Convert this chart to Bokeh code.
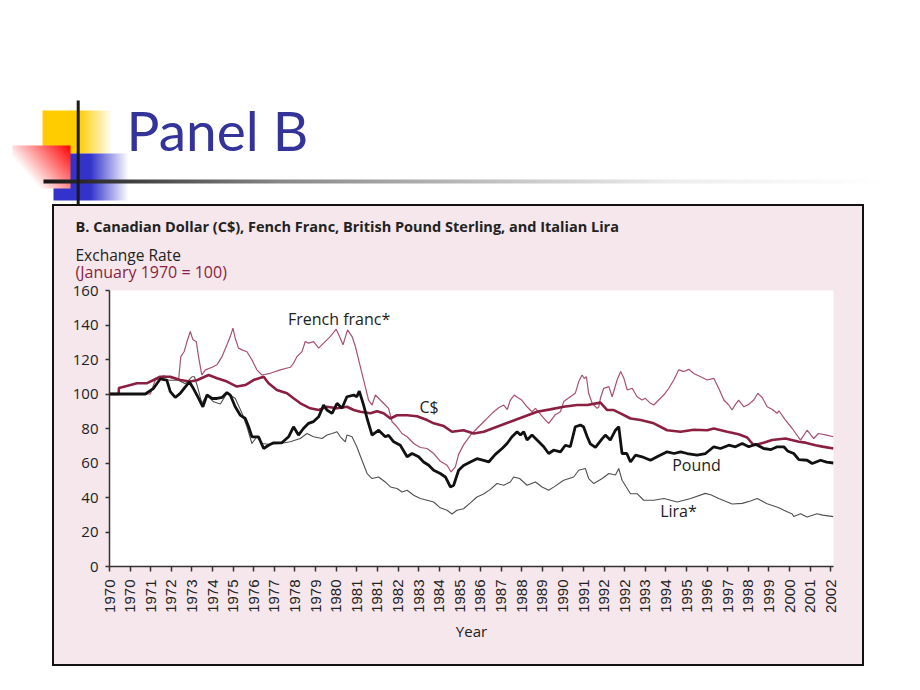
import math
import numpy as np
from bokeh.plotting import figure
from bokeh.models import Range1d, FixedTicker, Label, Spacer
from bokeh.layouts import column, row
from bokeh.embed import file_html
from bokeh.resources import INLINE

# ---------------- data (x = position in tick units, tick i = year_labels[i]) ----------------
year_labels = ["1970", "1970", "1971", "1972", "1973", "1974", "1975", "1976", "1977",
               "1978", "1979", "1980", "1981", "1981", "1982", "1983", "1984", "1985",
               "1986", "1987", "1988", "1989", "1990", "1991", "1992", "1992", "1993",
               "1994", "1995", "1996", "1997", "1998", "1999", "2000", "2001", "2002"]
y_ticks = [0, 20, 40, 60, 80, 100, 120, 140, 160]

cad_t = [0, 0.44, 0.46, 0.84, 1.33, 1.8, 2.14, 2.46, 2.95, 3.43, 3.9, 4.24, 4.81, 5.22, 5.7,
         6.18, 6.59, 6.99, 7.48, 7.72, 8.12, 8.61, 8.93, 9.26, 9.74, 10.15, 10.55, 11.04,
         11.52, 11.85, 12.17, 12.66, 12.98, 13.3, 13.63, 13.95, 14.44, 14.92, 15.41, 15.73,
         16.22, 16.62, 17.18, 17.67, 18.16, 18.8, 19.45, 20.1, 20.75, 21.39, 22.04, 22.69,
         23.18, 23.82, 24.15, 24.47, 24.79, 25.28, 25.77, 26.41, 27.06, 27.71, 28.35, 29.0,
         29.32, 29.97, 30.53, 30.94, 31.26, 31.74, 32.15, 32.8, 33.45, 33.77, 34.26, 34.6, 35.13]
cad_v = [100, 100, 103.5, 104.7, 106.2, 106.2, 108.1, 110, 110, 108.1, 107.2, 108, 111, 109.1,
         107.2, 104.3, 105.2, 108.1, 110, 106.2, 102.3, 100.4, 97.5, 94.6, 91.7, 90.7, 92.6,
         91.7, 92.6, 90.7, 89.7, 88.8, 90, 88.8, 85.8, 87.7, 87.7, 87.1, 84.9, 83, 81.4, 78.1,
         79, 77.1, 78.1, 81, 83.9, 86.8, 89.7, 91.1, 92.6, 93.6, 93.6, 95, 90.7, 90.7, 88.8,
         85.8, 84.9, 83, 79, 78.1, 79.3, 79, 80, 78.1, 76.7, 74.8, 70.3, 71.7, 73.3, 74.2,
         72.3, 71.8, 70.3, 69.5, 68.4]

franc_t = [0, 1.98, 2.22, 2.62, 3.1, 3.35, 3.46, 3.62, 3.76, 3.92, 4.05, 4.21, 4.32, 4.48,
           4.65, 4.98, 5.22, 5.46, 5.7, 5.86, 5.99, 6.1, 6.26, 6.43, 6.67, 6.91, 7.15, 7.4,
           7.8, 8.29, 8.77, 8.93, 9.1, 9.34, 9.5, 9.66, 9.9, 10.15, 10.39, 10.71, 11.0, 11.2,
           11.33, 11.55, 11.77, 11.93, 12.09, 12.25, 12.41, 12.57, 12.74, 12.9, 13.14, 13.38,
           13.54, 13.71, 13.95, 14.19, 14.44, 14.76, 15.08, 15.41, 15.73, 16.05, 16.38, 16.57,
           16.78, 16.94, 17.18, 17.51, 17.83, 18.24, 18.56, 18.88, 19.13, 19.3, 19.45, 19.64,
           19.8, 20.0, 20.26, 20.5, 20.67, 21.15, 21.31, 21.55, 21.63, 21.88, 22.04, 22.36,
           22.6, 22.77, 22.93, 23.04, 23.14, 23.25, 23.42, 23.66, 23.74, 23.82, 23.98, 24.23,
           24.39, 24.63, 24.8, 24.96, 25.12, 25.36, 25.6, 25.84, 26.0, 26.25, 26.41, 26.65,
           26.89, 27.14, 27.38, 27.62, 27.87, 28.11, 28.35, 28.68, 29.0, 29.32, 29.56, 29.81,
           30.05, 30.21, 30.37, 30.53, 30.78, 31.02, 31.26, 31.46, 31.67, 31.91, 32.16, 32.4,
           32.48, 32.8, 33.13, 33.53, 33.85, 34.17, 34.4, 34.8, 35.13]
franc_v = [100, 100, 108, 110.5, 109, 108, 121.7, 124.5, 130.4, 136.2, 131.4, 130.4, 121.7,
           111, 114, 115.5, 117, 121.7, 128.5, 133.3, 138.2, 132.3, 126.6, 125.6, 124.5, 119.8,
           114, 111, 112, 114, 115.5, 117.8, 121.7, 124.6, 130.4, 129.5, 130.4, 126.6, 129.5,
           133.3, 137.6, 132.3, 128.5, 137.2, 133.3, 127.5, 119.8, 112, 104.3, 96.5, 93.6, 99.4,
           96.5, 93.6, 91.7, 83.9, 81, 77.1, 75.2, 71.3, 69, 68.4, 65.5, 61, 58.7, 54.8, 57.8,
           65, 70.5, 76, 80, 84.9, 88.8, 92, 93.6, 91, 96.5, 99.4, 98, 96.5, 92.6, 89.7, 91.7,
           84.9, 83, 86.8, 88, 89.7, 95.6, 98.4, 100.4, 107.2, 111, 109, 110, 100.4, 94.6, 91.7,
           92.5, 97.5, 103.3, 104.3, 98.4, 108.1, 113, 109.1, 102.3, 103.3, 98.4, 96.5, 97.5,
           94.6, 93.6, 96.5, 99.4, 103.3, 108.1, 114, 113, 114.3, 111.9, 110, 108.1, 109.1,
           103.3, 96.5, 93.6, 90.7, 94, 96.5, 92.6, 94, 96.5, 100.4, 98, 92.6, 91, 88.8, 90.3,
           84.9, 80, 73.3, 79, 74.2, 77.1, 76.2, 75.2]

pound_t = [0, 1.74, 2.14, 2.46, 2.78, 2.95, 3.19, 3.43, 3.67, 3.88, 4.08, 4.3, 4.53, 4.73,
           4.98, 5.22, 5.46, 5.7, 5.86, 6.1, 6.34, 6.59, 6.75, 6.91, 7.23, 7.48, 7.72, 7.96,
           8.36, 8.69, 8.93, 9.17, 9.41, 9.66, 9.9, 10.15, 10.39, 10.55, 10.8, 11.04, 11.28,
           11.52, 11.85, 12.0, 12.12, 12.33, 12.5, 12.74, 13.06, 13.38, 13.54, 13.79, 14.11,
           14.44, 14.68, 15.0, 15.24, 15.49, 15.73, 16.05, 16.3, 16.54, 16.7, 16.94, 17.18,
           17.51, 17.83, 18.15, 18.4, 18.72, 19.05, 19.29, 19.53, 19.78, 19.94, 20.1, 20.26,
           20.5, 20.83, 21.07, 21.31, 21.55, 21.88, 22.12, 22.36, 22.6, 22.85, 23.0, 23.18,
           23.33, 23.58, 23.9, 24.06, 24.3, 24.55, 24.71, 24.87, 25.1, 25.28, 25.52, 25.84,
           26.25, 26.57, 27.06, 27.39, 27.71, 28.03, 28.51, 28.92, 29.32, 29.65, 30.05, 30.37,
           30.7, 31.02, 31.35, 31.74, 32.1, 32.4, 32.72, 32.9, 33.2, 33.45, 33.85, 34.1, 34.5,
           34.8, 35.13]
pound_v = [100, 100, 103.3, 108.7, 108, 101.4, 98, 100.4, 104, 107, 103, 98, 92.6, 99.4,
           97.4, 97.4, 98, 100.8, 99.4, 92.6, 87.8, 85.8, 81, 75.2, 75.2, 68.4, 70.3, 71.7,
           71.7, 75.2, 81, 76.2, 80, 83, 84, 86.8, 93.6, 90.7, 88.8, 94.6, 91.7, 98.4, 99.4,
           98.4, 101.7, 93.6, 85.8, 76.2, 79, 75.2, 76, 72.3, 70.3, 63.6, 65.5, 63.6, 60.6,
           58.7, 55.8, 53.9, 51.9, 46.1, 47.1, 55.8, 58.5, 60.6, 62.5, 61.5, 60.6, 65, 68.4,
           71.3, 75.2, 78.1, 76.2, 78.1, 73.3, 76.2, 72.3, 69.4, 65.5, 67.4, 66.5, 70.3, 69.4,
           81, 82, 81, 75.2, 71.1, 69.1, 74, 76.2, 73.3, 79, 81, 65.5, 65.5, 60.6, 64.5, 63.6,
           61.6, 63.6, 66.5, 65.5, 66.5, 65.5, 64.5, 65.5, 69.4, 68.4, 70.3, 69.4, 71.3, 69.4,
           70.9, 68.4, 67.8, 69.4, 69.4, 67, 65.5, 62, 61.6, 59.7, 61.6, 60.5, 60]

lira_t = [0, 1.74, 2.14, 2.46, 2.95, 3.35, 3.67, 3.85, 4.0, 4.12, 4.27, 4.48, 4.73, 5.05, 5.38,
          5.7, 6.1, 6.43, 6.67, 6.91, 7.15, 7.4, 7.72, 8.29, 8.77, 9.26, 9.58, 9.9, 10.31,
          10.55, 10.8, 11.04, 11.2, 11.44, 11.52, 11.77, 12.0, 12.25, 12.5, 12.74, 13.06, 13.38,
          13.63, 13.95, 14.19, 14.44, 14.76, 15.08, 15.41, 15.73, 16.05, 16.38, 16.62, 16.86,
          17.18, 17.51, 17.83, 18.15, 18.48, 18.8, 19.13, 19.45, 19.61, 19.9, 20.26, 20.67,
          20.99, 21.31, 21.55, 22.04, 22.52, 22.77, 23.09, 23.25, 23.5, 23.91, 24.23, 24.55,
          24.71, 24.87, 25.28, 25.6, 25.92, 26.41, 26.9, 27.55, 28.2, 28.91, 29.2, 29.56, 30.21,
          30.7, 31.1, 31.43, 31.91, 32.48, 32.72, 33.13, 33.2, 33.53, 33.85, 34.33, 34.6, 35.13]
lira_v = [100, 100, 103.3, 108.7, 108, 108, 106, 108, 110, 110, 104.3, 94.6, 99.4, 95.5, 94.2,
          100.4, 97.5, 88.8, 81, 71.3, 75.2, 71.3, 70.9, 71.3, 72.3, 74.2, 77.1, 75.2, 74.2,
          76.2, 77.1, 78.1, 75.2, 72.3, 76.2, 75.2, 69.4, 61.6, 53.9, 51, 51.9, 49, 46.1, 45.2,
          43.2, 44.2, 41.3, 39.4, 38.4, 37.4, 34, 32.6, 30.4, 32.6, 33.5, 36.9, 40.3, 42, 44.7,
          48.1, 47.1, 49, 51.9, 51, 47.1, 49, 46.1, 44.2, 46, 50, 51.9, 55.8, 56.8, 51, 48.1,
          51, 53.9, 53, 56.8, 50, 42.2, 42.2, 38.4, 38.4, 39.4, 37.4, 39.4, 42.4, 41.5, 39.4,
          36.2, 36.6, 38, 39.4, 36.4, 34.1, 32.6, 30.4, 29, 30.6, 28.7, 30.6, 29.8, 28.9]

# ---------------- styling ----------------
PINK = "#f5e7ec"
MAROON = "#8b1f40"
FRANC = "#a8526c"
LIRA = "#505050"
FONT = "Open Sans"
TXT = "#222222"

# ---------------- text strip at the top of the pink box ----------------
txt = figure(width=808, height=84, output_backend="svg", toolbar_location=None, title=None,
             x_range=Range1d(0, 808), y_range=Range1d(0, 84),
             x_axis_type=None, y_axis_type=None, min_border=0,
             background_fill_color=PINK, border_fill_color=PINK)
txt.outline_line_color = None
txt.frame_align = False

def tlab(x, y, text, size, color=TXT, style="normal"):
    txt.add_layout(Label(x=x, y=y, text=text, text_font=FONT, text_font_size=size,
                         text_color=color, text_font_style=style, text_baseline="middle",
                         text_align="left"))

tlab(21, 64, "B. Canadian Dollar (C$), Fench Franc, British Pound Sterling, and Italian Lira",
     "14.5px", style="bold")
tlab(21, 35.5, "Exchange Rate", "15.5px")
tlab(21, 18.5, "(January 1970 = 100)", "16px", color=MAROON)

# ---------------- chart figure (its transparent top border overlaps the text strip) ----------------
OVER = 30
p = figure(width=808, height=458 - 84 + OVER, output_backend="svg", toolbar_location=None,
           title=None, x_range=Range1d(0, 35.13), y_range=Range1d(0, 160),
           min_border_left=55, min_border_right=29, min_border_top=OVER, min_border_bottom=98,
           background_fill_color="white", border_fill_color=PINK)
p.border_fill_alpha = 0
p.frame_align = False
p.styles = {"margin-top": "-%dpx" % OVER}
p.outline_line_color = None
p.xgrid.grid_line_color = None
p.ygrid.grid_line_color = None

p.line(franc_t, franc_v, line_color=FRANC, line_width=1.2)
p.line(lira_t, lira_v, line_color=LIRA, line_width=1.1)
p.line(cad_t, cad_v, line_color=MAROON, line_width=2.6)
p.line(pound_t, pound_v, line_color="#111111", line_width=2.8)

xa = p.xaxis[0]
xa.ticker = FixedTicker(ticks=list(range(len(year_labels))))
xa.major_label_overrides = {i: lab for i, lab in enumerate(year_labels)}
xa.major_label_orientation = math.pi / 2
xa.major_label_text_font = "Liberation Sans"
xa.major_label_text_font_size = "15px"
xa.major_label_text_color = TXT
xa.major_label_standoff = 8
xa.major_tick_in = 0
xa.major_tick_out = 5
xa.minor_tick_line_color = None
xa.axis_label = "Year"
xa.axis_label_text_font = FONT
xa.axis_label_text_font_style = "normal"
xa.axis_label_text_font_size = "15px"
xa.axis_label_text_color = TXT
xa.axis_label_standoff = 5

ya = p.yaxis[0]
ya.ticker = FixedTicker(ticks=y_ticks)
ya.major_label_text_font = FONT
ya.major_label_text_font_size = "15px"
ya.major_label_text_color = TXT
ya.major_label_standoff = 7
ya.major_tick_in = 0
ya.major_tick_out = 4
ya.minor_tick_line_color = None

for ax in (xa, ya):
    ax.axis_line_color = "#333333"
    ax.axis_line_width = 1.5
    ax.major_tick_line_color = "#333333"
    ax.major_tick_line_width = 1.5

def lab(x, y, text):
    p.add_layout(Label(x=x, y=y, text=text, text_font=FONT, text_font_size="16px",
                       text_color=TXT, text_baseline="middle", text_align="left"))

lab(8.66, 143.7, "French franc*")
lab(15.04, 92.2, "C$")
lab(27.3, 59.1, "Pound")
lab(26.72, 32.2, "Lira*")

box = column(txt, p, styles={"outline": "2px solid #111111", "background-color": PINK})

# ---------------- slide header (decoration) ----------------
HB = 206  # page y of header bottom
hdr = figure(width=900, height=206, output_backend="svg", toolbar_location=None, title=None,
             x_range=Range1d(0, 900), y_range=Range1d(0, 206),
             x_axis_type=None, y_axis_type=None, min_border=0,
             background_fill_color="white", border_fill_color="white")
hdr.outline_line_color = None
hdr.frame_align = False

def gradient(x0, y0, w, h, fn):
    xs = x0 + np.arange(w) + 0.5
    ys = y0 + h - np.arange(h) - 0.5
    X, Y = np.meshgrid(xs, ys)
    r, g, b, a = fn(X, Y)
    img = np.zeros((h, w, 4), dtype=np.uint8)
    img[..., 0] = np.clip(r, 0, 255)
    img[..., 1] = np.clip(g, 0, 255)
    img[..., 2] = np.clip(b, 0, 255)
    img[..., 3] = np.clip(a, 0, 255)
    hdr.image_rgba(image=[img.view(np.uint32).reshape(h, w)], x=x0, y=HB - (y0 + h), dw=w, dh=h)

def yellow(X, Y):
    a = np.clip(1 - (X - 78) / 34.0, 0, 1) * 255
    return 255 + 0 * X, 204 + 0 * X, 0 * X, a

def blue(X, Y):
    a = np.clip(1 - (X - 90) / 38.0, 0, 1) * 255
    return 51 + 0 * X, 51 + 0 * X, 204 + 0 * X, a

def red(X, Y):
    t = np.clip(1 - 0.85 * (70 - X) / 58.0 - 0.55 * (Y - 145) / 43.0, 0, 1)
    return 255 + 0 * X, 255 * (1 - t), 255 * (1 - t), 255 + 0 * X

def hline(X, Y):
    gval = np.interp(X, [43, 140, 280, 517, 675, 880], [24, 68, 136, 200, 238, 255])
    return gval, gval, gval, 255 + 0 * X

gradient(42, 110, 70, 43, yellow)
gradient(53, 153, 75, 47, blue)
gradient(12, 145, 58, 43, red)
gradient(43, 179, 837, 4, hline)
hdr.line([77.7, 77.7], [HB - 100, HB - 204], line_color="#1a1a1a", line_width=3)

hdr.add_layout(Label(x=126, y=HB - 129, text="Panel B", text_font="Lato",
                     text_font_size="55px", text_color="#333399", text_baseline="middle"))

layout = column(hdr, row(Spacer(width=54, height=458), box))

open("out.html", "w").write(file_html(layout, INLINE))
